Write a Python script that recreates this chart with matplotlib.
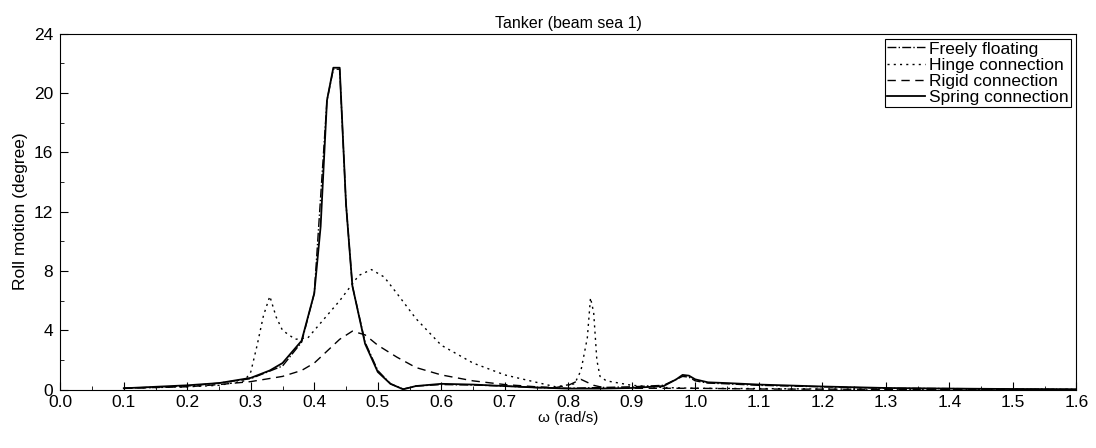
import numpy as np
import matplotlib.pyplot as plt
from matplotlib.ticker import MultipleLocator

plt.rcParams['font.family'] = ['Liberation Sans', 'DejaVu Sans']

# Data
w_free = [0.10, 0.20, 0.25, 0.30, 0.35, 0.38, 0.40, 0.42, 0.43, 0.44, 0.45, 0.46, 0.48, 0.50, 0.52, 0.54, 0.56, 0.60, 0.65, 0.70, 0.75, 0.80, 0.85, 0.90, 0.95, 0.97, 0.98, 0.99, 1.00, 1.02, 1.05, 1.10, 1.20, 1.30, 1.40, 1.50, 1.60]
r_free = [0.1, 0.25, 0.45, 0.75, 1.6, 3.2, 6.5, 19.5, 21.6, 21.6, 12.5, 7.0, 3.2, 1.3, 0.4, 0.05, 0.25, 0.35, 0.32, 0.25, 0.15, 0.1, 0.15, 0.2, 0.3, 0.7, 0.9, 0.85, 0.6, 0.45, 0.4, 0.3, 0.2, 0.1, 0.08, 0.05, 0.03]

w_hinge = [0.10, 0.20, 0.25, 0.29, 0.30, 0.31, 0.32, 0.33, 0.34, 0.35, 0.37, 0.39, 0.41, 0.44, 0.47, 0.49, 0.51, 0.53, 0.56, 0.60, 0.65, 0.70, 0.75, 0.78, 0.81, 0.82, 0.83, 0.835, 0.84, 0.845, 0.85, 0.86, 0.90, 0.95, 1.00, 1.10, 1.20, 1.40, 1.60]
r_hinge = [0.1, 0.2, 0.3, 0.6, 1.2, 3.0, 5.0, 6.3, 4.9, 4.0, 3.4, 3.5, 4.5, 6.0, 7.7, 8.1, 7.6, 6.5, 4.8, 3.0, 1.8, 1.0, 0.5, 0.2, 0.4, 1.3, 3.5, 6.2, 5.2, 2.0, 0.9, 0.6, 0.3, 0.15, 0.1, 0.08, 0.05, 0.03, 0.02]

w_rigid = [0.10, 0.20, 0.25, 0.30, 0.35, 0.38, 0.40, 0.42, 0.44, 0.46, 0.48, 0.50, 0.53, 0.56, 0.60, 0.65, 0.70, 0.75, 0.78, 0.80, 0.82, 0.84, 0.86, 0.90, 0.95, 1.00, 1.10, 1.30, 1.60]
r_rigid = [0.1, 0.2, 0.35, 0.55, 0.9, 1.3, 1.8, 2.6, 3.4, 3.95, 3.7, 3.0, 2.2, 1.5, 1.0, 0.6, 0.35, 0.2, 0.15, 0.3, 0.7, 0.3, 0.1, 0.1, 0.1, 0.1, 0.05, 0.03, 0.02]

w_spring = [0.10, 0.20, 0.25, 0.30, 0.33, 0.35, 0.38, 0.40, 0.41, 0.42, 0.43, 0.44, 0.45, 0.46, 0.48, 0.50, 0.52, 0.54, 0.56, 0.60, 0.65, 0.70, 0.75, 0.80, 0.85, 0.90, 0.95, 0.97, 0.98, 0.99, 1.00, 1.02, 1.05, 1.10, 1.20, 1.30, 1.40, 1.50, 1.60]
r_spring = [0.1, 0.3, 0.45, 0.8, 1.3, 1.8, 3.3, 6.5, 11.0, 19.5, 21.7, 21.7, 12.5, 7.0, 3.1, 1.2, 0.4, 0.03, 0.25, 0.4, 0.35, 0.25, 0.15, 0.08, 0.08, 0.12, 0.25, 0.7, 1.0, 0.95, 0.7, 0.5, 0.45, 0.35, 0.22, 0.12, 0.08, 0.05, 0.03]

fig, ax = plt.subplots(figsize=(10.96, 4.48), dpi=100)
ax.plot(w_free, r_free, color='black', lw=1.0, ls='-.', label='Freely floating')
ax.plot(w_hinge, r_hinge, color='black', lw=1.0, ls=(0, (1.5, 3)), label='Hinge connection')
ax.plot(w_rigid, r_rigid, color='black', lw=1.0, ls=(0, (6, 4)), label='Rigid connection')
ax.plot(w_spring, r_spring, color='black', lw=1.3, ls='-', label='Spring connection')

ax.set_xlim(0, 1.6)
ax.set_ylim(0, 24)
ax.xaxis.set_major_locator(MultipleLocator(0.1))
ax.xaxis.set_minor_locator(MultipleLocator(0.05))
ax.yaxis.set_major_locator(MultipleLocator(4))
ax.yaxis.set_minor_locator(MultipleLocator(2))
ax.xaxis.set_major_formatter(plt.FuncFormatter(lambda v, p: f'{v:.1f}'))
ax.tick_params(which='both', direction='in', labelsize=12.5)
ax.tick_params(which='major', length=6)
ax.tick_params(which='minor', length=3)
ax.tick_params(axis='y', pad=5)
ax.set_xlabel('ω (rad/s)', fontsize=11, labelpad=1)
ax.set_ylabel('Roll motion (degree)', fontsize=12.5)
ax.set_title('Tanker (beam sea 1)', fontsize=11.5, pad=4)
leg = ax.legend(loc='upper right', fontsize=12.5, handlelength=2.2, handletextpad=0.2,
                borderaxespad=0.3, borderpad=0.15, labelspacing=0.05, fancybox=False,
                edgecolor='black', framealpha=1)
leg.get_frame().set_linewidth(0.8)

plt.subplots_adjust(left=0.055, right=0.982, top=0.925, bottom=0.13)
fig.savefig('out.png')
